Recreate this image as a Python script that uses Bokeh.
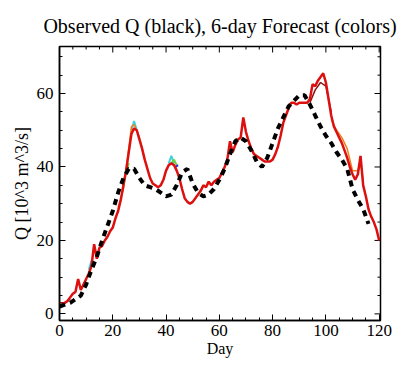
from bokeh.plotting import figure
from bokeh.models import Range1d, SingleIntervalTicker, Title
from bokeh.embed import file_html
from bokeh.resources import INLINE

# ---- data ----
fc_day = list(range(0, 121))
fc_red = [2.5, 2.5, 3, 3.5, 4.5, 5.5, 6, 9.5, 6.5, 8,
          9.5, 11, 13, 19, 15, 18, 18.5, 20, 21, 22.5,
          23.5, 26, 28, 31, 35, 39, 44, 49, 50.5, 50,
          47.5, 45, 42, 39.5, 37, 35.5, 35, 34.5, 35, 36.5,
          39, 40.5, 41, 40.5, 39, 37, 34, 31.5, 30.5, 30,
          30.5, 31.5, 32.5, 33.5, 35, 34.5, 36, 35, 36, 36.5,
          37, 38.5, 40, 42, 47, 44, 46, 47.5, 48, 53.5,
          49.5, 47, 45, 43.5, 43, 42.5, 42, 41.5, 41.5, 41.5,
          42, 43.5, 45.5, 48.5, 52, 54, 56, 57.5, 57.5, 57,
          57.5, 57.5, 57.5, 57.5, 58.5, 62.5, 62, 63.5, 64.5, 65.5,
          63, 58.5, 54, 51, 49.5, 48, 46.5, 44.5, 42.5, 40,
          38, 36.5, 38, 43, 35, 32, 28.5, 26.5, 25, 23, 20]

obs_day = [0, 2, 4, 6, 8, 10, 12, 14, 16, 18, 20, 22, 24, 26, 28, 30, 32, 34,
           36, 38, 40, 42, 44, 46, 48, 50, 52, 54, 56, 58, 60, 62, 64, 66, 68,
           70, 72, 74, 76, 78, 80, 82, 84, 86, 88, 90, 92, 94, 96, 98, 100,
           102, 104, 106, 108, 110, 112, 114, 116]
obs_q = [2, 2.5, 3, 4, 5, 8, 12, 15.5, 20, 24, 28, 33, 37, 39.5, 39.5, 37, 35,
         34.5, 34, 33, 32, 32.5, 35, 38.5, 39.5, 35.5, 33, 32, 32.5, 34, 36.5,
         39.5, 43.5, 47, 48, 47, 44.5, 41.5, 40, 42.5, 46.5, 50.5, 53.5, 56.5,
         58, 59.5, 59.5, 57, 54, 51, 48.5, 46.5, 44, 42, 39.5, 34, 31, 28.5, 24.5]

# other forecast members (short visible pieces)
orange_days = [[22, 24, 26, 27, 28, 29, 30, 32], [102, 104, 106, 108, 110, 112, 113, 114]]
orange_q = [[29, 34, 45, 51, 51.5, 50, 48, 42], [53, 50, 48, 45, 39, 39, 42, 36]]
darkred_days = [[0, 1, 2, 3, 4], [94, 96, 98, 100, 102]]
darkred_q = [[3, 3, 3, 3.5, 4], [57.5, 61, 63, 62, 55]]
cyan_days = [[11, 12, 13], [27, 28, 29], [41, 42, 43]]
cyan_q = [[12, 14.5, 13], [50, 52.5, 50], [41, 43, 41]]
green_days = [[24, 25, 26], [42, 43, 44]]
green_q = [[36, 38.5, 41], [41, 42, 40.5]]
blue_days = [[43.5, 44.5]]
blue_q = [[40, 40.5]]

TITLE = "Observed Q (black), 6-day Forecast (colors)"
X_MIN, X_MAX = 0, 120.5
Y_MIN, Y_MAX = -1.8, 72.8
TICK_STEP = 20
MINOR_STEP = 5

FONT = "Liberation Serif"

W, H = 408, 363
BL, BR, BT, BB = 59, 28, 46, 43
p = figure(width=W, height=H, output_backend="svg", toolbar_location=None,
           x_range=Range1d(X_MIN, X_MAX), y_range=Range1d(Y_MIN, Y_MAX),
           min_border_left=BL, min_border_right=BR, min_border_top=BT,
           min_border_bottom=BB, title=None)
p.xgrid.visible = False
p.ygrid.visible = False
p.outline_line_color = "black"
p.outline_line_width = 1.5
p.background_fill_color = "white"
p.border_fill_color = "white"

for ax in (p.xaxis[0], p.yaxis[0]):
    ax.ticker = SingleIntervalTicker(interval=TICK_STEP, num_minor_ticks=4)
    ax.axis_line_color = "black"
    ax.axis_line_width = 1.5
    ax.major_tick_in = 6
    ax.major_tick_out = 0
    ax.minor_tick_in = 3
    ax.minor_tick_out = 0
    ax.major_tick_line_color = "black"
    ax.minor_tick_line_color = "black"
    ax.major_label_text_font = FONT
    ax.major_label_text_font_size = "17px"
    ax.major_label_text_color = "black"
    ax.axis_label_text_font = FONT
    ax.axis_label_text_font_style = "normal"
    ax.axis_label_text_color = "black"
p.xaxis.axis_label = "Day"
p.yaxis.axis_label = "Q [10^3 m^3/s]"
p.xaxis.axis_label_text_font_size = "16px"
p.yaxis.axis_label_text_font_size = "18px"
p.xaxis.major_label_standoff = 4
p.yaxis.major_label_standoff = 6
p.xaxis.axis_label_standoff = 1
p.yaxis.axis_label_standoff = 2

p.add_layout(Title(text=TITLE, text_font=FONT, text_font_size="20px",
                   text_font_style="normal", text_color="black", align="center",
                   vertical_align="bottom", standoff=20), "above")

# mirrored ticks on top and right edges (IDL style box)
fw, fh = W - BL - BR, H - BT - BB
px_x = (X_MAX - X_MIN) / fw
px_y = (Y_MAX - Y_MIN) / fh
xt = list(range(0, 121, MINOR_STEP))
xlen = [(6 if v % TICK_STEP == 0 else 3) * px_y for v in xt]
p.segment(x0=xt, y0=[Y_MAX] * len(xt), x1=xt, y1=[Y_MAX - l for l in xlen],
          line_color="black", line_width=1)
yt = list(range(0, 71, MINOR_STEP))
ylen = [(6 if v % TICK_STEP == 0 else 3) * px_x for v in yt]
p.segment(x0=[X_MAX] * len(yt), y0=yt, x1=[X_MAX - l for l in ylen], y1=yt,
          line_color="black", line_width=1)

# forecast members
p.multi_line(darkred_days, darkred_q, line_color="#8b1010", line_width=1.5)
p.multi_line(cyan_days, cyan_q, line_color="#40d0e0", line_width=2)
p.multi_line(green_days, green_q, line_color="#70d040", line_width=2)
p.multi_line(blue_days, blue_q, line_color="#2030e0", line_width=2)
p.multi_line(orange_days, orange_q, line_color="#f08020", line_width=1.5)
p.line(fc_day, fc_red, line_color="#dd1010", line_width=2.5)

# observed
p.line(obs_day, obs_q, line_color="black", line_width=4, line_dash="6 5")

open("out.html", "w").write(file_html(p, INLINE))
